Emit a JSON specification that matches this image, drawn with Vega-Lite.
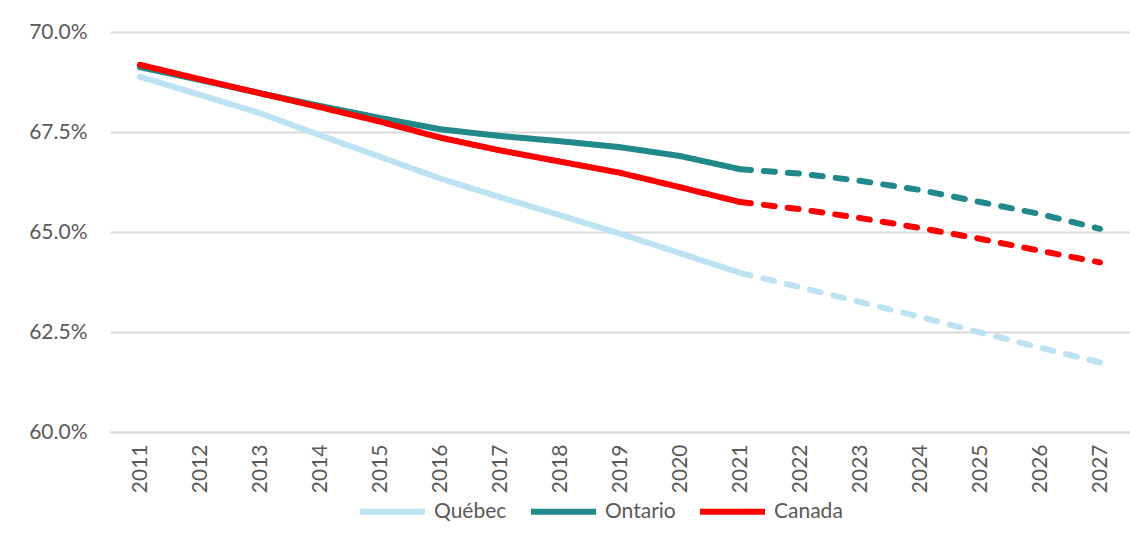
{
  "$schema": "https://vega.github.io/schema/vega-lite/v6.json",
  "width": 1020,
  "height": 400,
  "autosize": {"type": "none"},
  "padding": {"left": 110, "top": 32, "right": 0, "bottom": 101},
  "background": "white",
  "config": {
    "view": {"stroke": null},
    "font": "Lato",
    "axis": {"labelFont": "Lato", "labelColor": "#595959"}
  },
  "data": {
    "values": [
      {"year": "2011", "region": "Québec", "period": "actual", "value": 0.6888},
      {"year": "2012", "region": "Québec", "period": "actual", "value": 0.6843},
      {"year": "2013", "region": "Québec", "period": "actual", "value": 0.6797},
      {"year": "2014", "region": "Québec", "period": "actual", "value": 0.6742},
      {"year": "2015", "region": "Québec", "period": "actual", "value": 0.6688},
      {"year": "2016", "region": "Québec", "period": "actual", "value": 0.6634},
      {"year": "2017", "region": "Québec", "period": "actual", "value": 0.6587},
      {"year": "2018", "region": "Québec", "period": "actual", "value": 0.6542},
      {"year": "2019", "region": "Québec", "period": "actual", "value": 0.6496},
      {"year": "2020", "region": "Québec", "period": "actual", "value": 0.6447},
      {"year": "2021", "region": "Québec", "period": "actual", "value": 0.6398},
      {"year": "2021", "region": "Québec", "period": "projection", "value": 0.6398},
      {"year": "2022", "region": "Québec", "period": "projection", "value": 0.6362},
      {"year": "2023", "region": "Québec", "period": "projection", "value": 0.6325},
      {"year": "2024", "region": "Québec", "period": "projection", "value": 0.6288},
      {"year": "2025", "region": "Québec", "period": "projection", "value": 0.6249},
      {"year": "2026", "region": "Québec", "period": "projection", "value": 0.6211},
      {"year": "2027", "region": "Québec", "period": "projection", "value": 0.6174},
      {"year": "2011", "region": "Ontario", "period": "actual", "value": 0.6912},
      {"year": "2012", "region": "Ontario", "period": "actual", "value": 0.688},
      {"year": "2013", "region": "Ontario", "period": "actual", "value": 0.6847},
      {"year": "2014", "region": "Ontario", "period": "actual", "value": 0.6815},
      {"year": "2015", "region": "Ontario", "period": "actual", "value": 0.6785},
      {"year": "2016", "region": "Ontario", "period": "actual", "value": 0.6757},
      {"year": "2017", "region": "Ontario", "period": "actual", "value": 0.674},
      {"year": "2018", "region": "Ontario", "period": "actual", "value": 0.6727},
      {"year": "2019", "region": "Ontario", "period": "actual", "value": 0.6712},
      {"year": "2020", "region": "Ontario", "period": "actual", "value": 0.669},
      {"year": "2021", "region": "Ontario", "period": "actual", "value": 0.6657},
      {"year": "2021", "region": "Ontario", "period": "projection", "value": 0.6657},
      {"year": "2022", "region": "Ontario", "period": "projection", "value": 0.6646},
      {"year": "2023", "region": "Ontario", "period": "projection", "value": 0.6628},
      {"year": "2024", "region": "Ontario", "period": "projection", "value": 0.6605},
      {"year": "2025", "region": "Ontario", "period": "projection", "value": 0.6575},
      {"year": "2026", "region": "Ontario", "period": "projection", "value": 0.6545},
      {"year": "2027", "region": "Ontario", "period": "projection", "value": 0.6508},
      {"year": "2011", "region": "Canada", "period": "actual", "value": 0.6918},
      {"year": "2012", "region": "Canada", "period": "actual", "value": 0.6882},
      {"year": "2013", "region": "Canada", "period": "actual", "value": 0.6847},
      {"year": "2014", "region": "Canada", "period": "actual", "value": 0.6812},
      {"year": "2015", "region": "Canada", "period": "actual", "value": 0.6776},
      {"year": "2016", "region": "Canada", "period": "actual", "value": 0.6736},
      {"year": "2017", "region": "Canada", "period": "actual", "value": 0.6704},
      {"year": "2018", "region": "Canada", "period": "actual", "value": 0.6676},
      {"year": "2019", "region": "Canada", "period": "actual", "value": 0.6648},
      {"year": "2020", "region": "Canada", "period": "actual", "value": 0.6612},
      {"year": "2021", "region": "Canada", "period": "actual", "value": 0.6575},
      {"year": "2021", "region": "Canada", "period": "projection", "value": 0.6575},
      {"year": "2022", "region": "Canada", "period": "projection", "value": 0.6557},
      {"year": "2023", "region": "Canada", "period": "projection", "value": 0.6535},
      {"year": "2024", "region": "Canada", "period": "projection", "value": 0.651},
      {"year": "2025", "region": "Canada", "period": "projection", "value": 0.6483},
      {"year": "2026", "region": "Canada", "period": "projection", "value": 0.6453},
      {"year": "2027", "region": "Canada", "period": "projection", "value": 0.6424}
    ]
  },
  "mark": {"type": "line", "strokeWidth": 6, "strokeCap": "round", "strokeJoin": "round"},
  "encoding": {
    "x": {
      "field": "year",
      "type": "ordinal",
      "title": null,
      "scale": {"type": "point", "padding": 0.5},
      "axis": {
        "labelAngle": -90,
        "labelFontSize": 21,
        "labelPadding": 12,
        "ticks": false,
        "domainColor": "#d9d9d9",
        "domainWidth": 2,
        "grid": false
      }
    },
    "y": {
      "field": "value",
      "type": "quantitative",
      "title": null,
      "scale": {"domain": [0.6, 0.7], "nice": false, "zero": false},
      "axis": {
        "values": [0.6, 0.625, 0.65, 0.675, 0.7],
        "format": ".1%",
        "labelFontSize": 21,
        "labelPadding": 23,
        "ticks": false,
        "domain": false,
        "gridColor": "#d9d9d9",
        "gridWidth": 2
      }
    },
    "color": {
      "field": "region",
      "type": "nominal",
      "scale": {"domain": ["Québec", "Ontario", "Canada"], "range": ["#bde3f2", "#21898a", "#ff0000"]},
      "legend": {
        "title": null,
        "orient": "none",
        "direction": "horizontal",
        "legendX": 247,
        "legendY": 444,
        "symbolType": "stroke",
        "symbolSize": 4225,
        "symbolStrokeWidth": 6,
        "labelFontSize": 21,
        "labelColor": "#595959",
        "labelFont": "Lato",
        "labelOffset": 6,
        "columnPadding": 12
      }
    },
    "strokeDash": {
      "field": "period",
      "type": "nominal",
      "scale": {"domain": ["actual", "projection"], "range": [[1, 0], [11, 13]]},
      "legend": null
    },
    "detail": {"field": "period"}
  }
}
